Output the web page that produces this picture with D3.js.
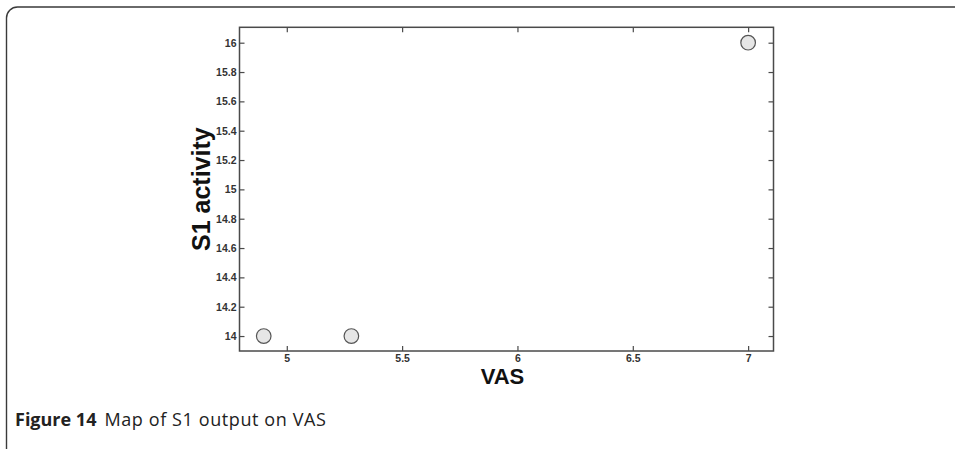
<!DOCTYPE html>
<html>
<head>
<meta charset="utf-8">
<script src="https://cdn.jsdelivr.net/npm/d3@7/dist/d3.min.js"></script>
<style>
  html, body { margin: 0; padding: 0; background: #fff; }
  svg { display: block; }
</style>
</head>
<body>
<svg id="chart" width="955" height="449"></svg>
<script>
// Observations: VAS score vs. S1 activity
const vasValues = [4.9, 5.28, 7];
const s1Activity = [14, 14, 16];

// Axis ticks
const xTicks = [5, 5.5, 6, 6.5, 7];
const yTicks = [14, 14.2, 14.4, 14.6, 14.8, 15, 15.2, 15.4, 15.6, 15.8, 16];

const xDomain = [4.795, 7.11];
const yDomain = [13.898, 16.105];

const svg = d3.select("#chart");

// Rounded frame around the figure
svg.append("rect")
  .attr("x", 6.5).attr("y", 7)
  .attr("width", 1000).attr("height", 452)
  .attr("rx", 11).attr("ry", 11)
  .attr("fill", "none")
  .attr("stroke", "#3a3a3a")
  .attr("stroke-width", 1.4);

const plot = { left: 239.5, right: 773.5, top: 27.3, bottom: 351 };

const x = d3.scaleLinear().domain(xDomain).range([plot.left, plot.right]);
const y = d3.scaleLinear().domain(yDomain).range([plot.bottom, plot.top]);

const axisColor = "#4a4a4a";
const tickFont = "'Liberation Sans Narrow', 'Arial Narrow', 'Liberation Sans', sans-serif";

// Bottom axis with labels, ticks pointing inward
const xAxis = svg.append("g")
  .attr("transform", `translate(0,${plot.bottom})`)
  .call(d3.axisBottom(x).tickValues(xTicks).tickSize(-5).tickSizeOuter(0).tickPadding(4)
        .tickFormat(d3.format("")));
// Top axis, ticks only
const xAxisTop = svg.append("g")
  .attr("transform", `translate(0,${plot.top})`)
  .call(d3.axisTop(x).tickValues(xTicks).tickSize(-5).tickSizeOuter(0).tickFormat(""));
// Left axis with labels
const yAxis = svg.append("g")
  .attr("transform", `translate(${plot.left},0)`)
  .call(d3.axisLeft(y).tickValues(yTicks).tickSize(-5).tickSizeOuter(0).tickPadding(3)
        .tickFormat(d3.format("")));
// Right axis, ticks only
const yAxisRight = svg.append("g")
  .attr("transform", `translate(${plot.right},0)`)
  .call(d3.axisRight(y).tickValues(yTicks).tickSize(-5).tickSizeOuter(0).tickFormat(""));

[xAxis, xAxisTop, yAxis, yAxisRight].forEach(g => {
  g.select(".domain").remove();
  g.selectAll(".tick line").attr("stroke", axisColor).attr("stroke-width", 1.2);
  g.selectAll(".tick text")
    .attr("fill", "#333")
    .style("font-family", tickFont)
    .style("font-weight", "bold")
    .style("font-size", "10.5px");
});
// Move the mirrored ticks to the inner side of the box
xAxisTop.selectAll(".tick line").attr("y2", 5);
yAxisRight.selectAll(".tick line").attr("x2", -5);
xAxis.selectAll(".tick line").attr("y2", -5);
yAxis.selectAll(".tick line").attr("x2", 5);

// Plot box
svg.append("rect")
  .attr("x", plot.left).attr("y", plot.top)
  .attr("width", plot.right - plot.left)
  .attr("height", plot.bottom - plot.top)
  .attr("fill", "none")
  .attr("stroke", axisColor)
  .attr("stroke-width", 1.5);

// Data points
svg.append("g")
  .selectAll("circle")
  .data(vasValues.map((v, i) => ({ v, s: s1Activity[i] })))
  .join("circle")
  .attr("cx", d => x(d.v))
  .attr("cy", d => y(d.s))
  .attr("r", 7.3)
  .attr("fill", "#e6e6e6")
  .attr("stroke", "#555")
  .attr("stroke-width", 1.2);

// Axis titles
svg.append("text")
  .attr("x", (plot.left + plot.right) / 2 - 4)
  .attr("y", 384)
  .attr("text-anchor", "middle")
  .style("font-family", "'Liberation Sans', Arial, sans-serif")
  .style("font-weight", "bold")
  .style("font-size", "22px")
  .attr("fill", "#111")
  .text("VAS");

svg.append("text")
  .attr("transform", `translate(210,${(plot.top + plot.bottom) / 2}) rotate(-90)`)
  .attr("text-anchor", "middle")
  .style("font-family", "'Liberation Sans', Arial, sans-serif")
  .style("font-weight", "bold")
  .style("font-size", "25px")
  .attr("fill", "#111")
  .text("S1 activity");

// Caption
const caption = svg.append("text")
  .attr("x", 15)
  .attr("y", 426)
  .style("font-family", "'Open Sans', 'Noto Sans', sans-serif")
  .style("font-size", "18px")
  .attr("fill", "#222");
caption.append("tspan").style("font-weight", "bold").text("Figure 14");
caption.append("tspan").attr("dx", 8).style("letter-spacing", "0.6px")
  .text("Map of S1 output on VAS");
</script>
</body>
</html>
